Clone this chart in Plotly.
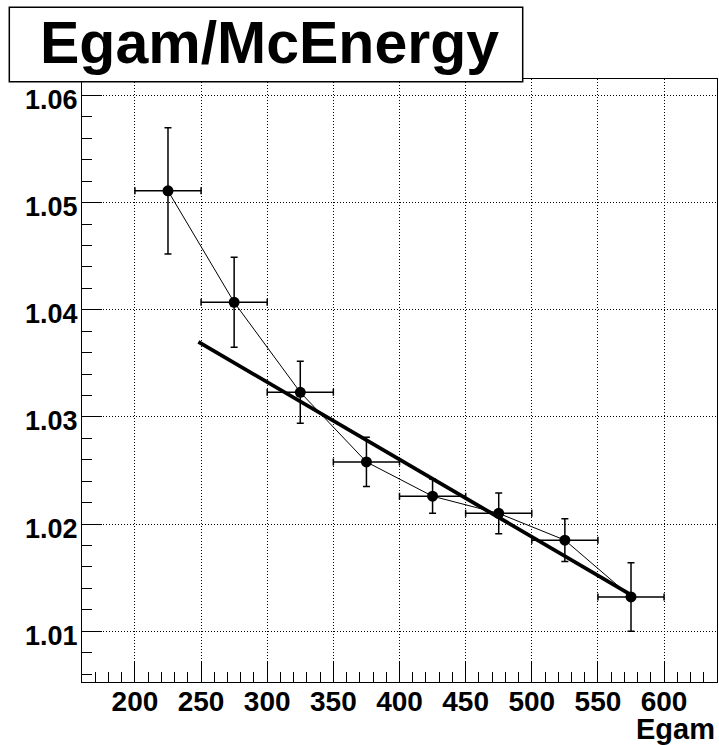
import plotly.graph_objects as go

# ---- data ----
energy = [225, 275, 325, 375, 425, 475, 525, 575]
energy_halfwidth = [25, 25, 25, 25, 25, 25, 25, 25]
ratio = [1.0511, 1.0407, 1.0323, 1.0258, 1.0226, 1.0210, 1.0185, 1.0132]
ratio_err = [0.0059, 0.0042, 0.0029, 0.0023, 0.0016, 0.0019, 0.0020, 0.0032]

fit_x = [248, 575]
fit_y = [1.0370, 1.0134]

title_text = "Egam/McEnergy"
x_title = "Egam"

# ---- layout geometry (pixels) ----
W, H = 719, 745
L, R, T, B = 82, 2, 79, 63
pw, ph = W - L - R, H - T - B

def px_to_paper_x(px):
    return (px - L) / pw

def px_to_paper_y(py):
    return (H - B - py) / ph

font_family = "Liberation Sans, Arial, sans-serif"

fig = go.Figure()

fig.add_trace(go.Scatter(
    x=energy, y=ratio,
    mode="lines+markers",
    line=dict(color="black", width=1),
    marker=dict(color="black", size=11, symbol="circle"),
    error_x=dict(type="data", array=energy_halfwidth, visible=True,
                 color="black", thickness=1.5, width=3.5),
    error_y=dict(type="data", array=ratio_err, visible=True,
                 color="black", thickness=1.5, width=3.5),
    showlegend=False,
))

fig.add_trace(go.Scatter(
    x=fit_x, y=fit_y, mode="lines",
    line=dict(color="black", width=3.8),
    showlegend=False,
))

axis_common = dict(
    showline=True, mirror=True, linecolor="black", linewidth=1.2,
    showgrid=True, gridcolor="black", gridwidth=1, griddash="1px,2px",
    zeroline=False,
    ticks="inside", ticklen=20, tickwidth=1.2, tickcolor="black",
)

fig.update_layout(
    width=W, height=H,
    margin=dict(l=L, r=R, t=T, b=B),
    paper_bgcolor="white", plot_bgcolor="white",
    xaxis=dict(
        range=[160, 640], tick0=0, dtick=50,
        tickfont=dict(family=font_family, size=28, color="black", weight="bold"),
        ticklabelstandoff=-6,
        minor=dict(ticks="inside", ticklen=10, tickwidth=1.2, tickcolor="black",
                   dtick=10, tick0=0, showgrid=False),
        **axis_common,
    ),
    yaxis=dict(
        range=[1.00526, 1.06154], tick0=1.0, dtick=0.01, tickformat=".2f",
        tickfont=dict(family=font_family, size=27, color="black", weight="bold"),
        ticklabelstandoff=-2, ticklabelshift=4,
        minor=dict(ticks="inside", ticklen=10, tickwidth=1.2, tickcolor="black",
                   dtick=0.002, tick0=1.0, showgrid=False),
        **axis_common,
    ),
)

# title box
bx0, bx1, by0, by1 = 9.3, 522.7, 7.3, 81.7
fig.add_shape(type="rect", xref="paper", yref="paper",
              x0=px_to_paper_x(bx0), x1=px_to_paper_x(bx1),
              y0=px_to_paper_y(by1), y1=px_to_paper_y(by0),
              line=dict(color="black", width=1.5), fillcolor="white",
              layer="above")
fig.add_annotation(text=title_text, xref="paper", yref="paper",
                   x=px_to_paper_x((bx0 + bx1) / 2 + 3), y=px_to_paper_y((by0 + by1) / 2 - 1),
                   xanchor="center", yanchor="middle", showarrow=False,
                   font=dict(family=font_family, size=59, color="black", weight="bold"))

# x-axis title at bottom right
fig.add_annotation(text=x_title, xref="paper", yref="paper",
                   x=1.0, y=px_to_paper_y(711), xanchor="right", yanchor="top",
                   showarrow=False,
                   font=dict(family=font_family, size=29, color="black", weight="bold"))

fig.write_html("out.html")
